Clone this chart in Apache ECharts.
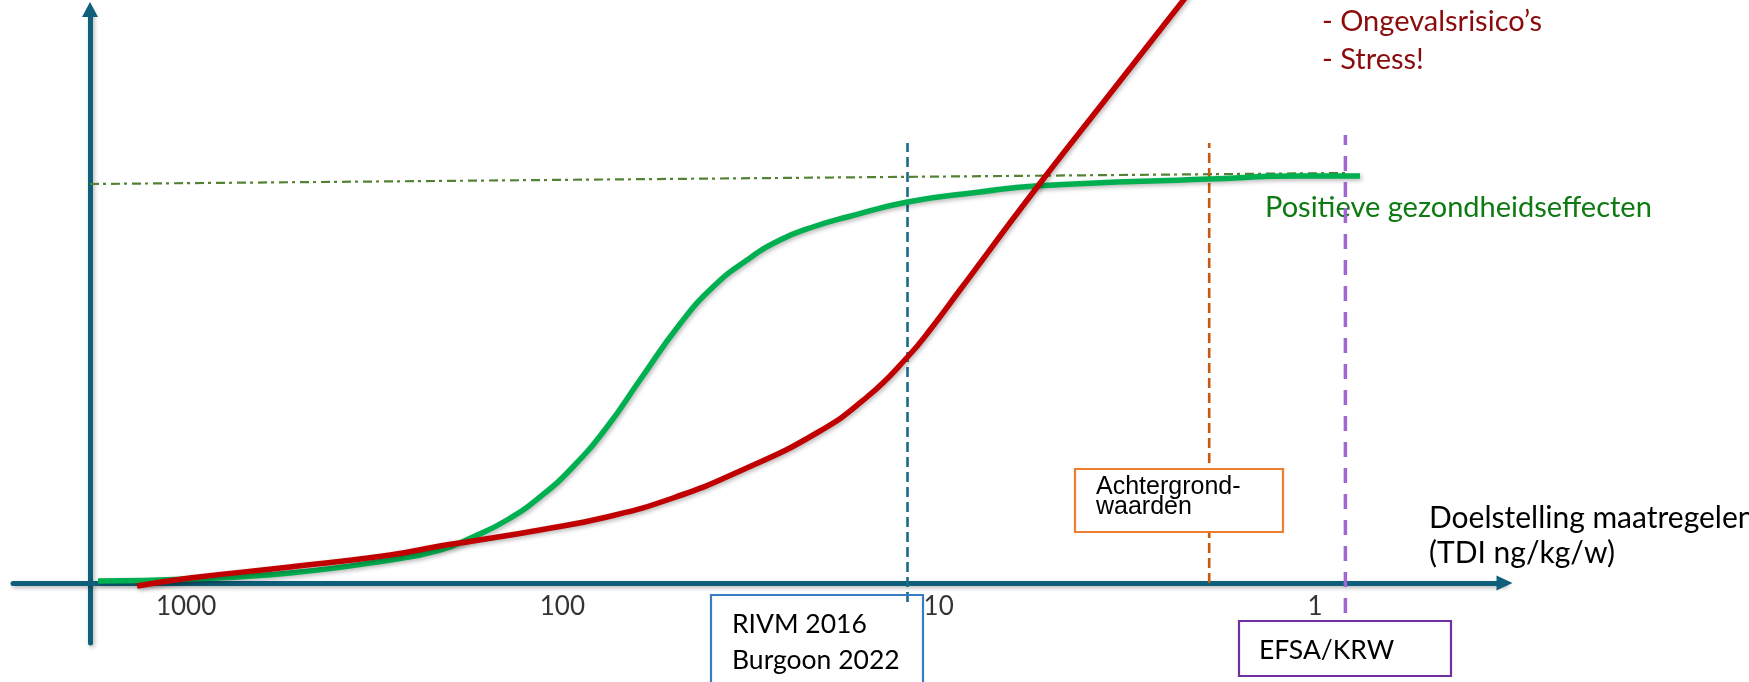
<!DOCTYPE html>
<html>
<head>
<meta charset="utf-8">
<script src="https://cdn.jsdelivr.net/npm/echarts@6/dist/echarts.min.js"></script>
<style>
  html, body { margin: 0; padding: 0; background: #ffffff; }
  #chart { width: 1749px; height: 682px; }
</style>
</head>
<body>
<div id="chart"></div>
<script>
// Dose on a reversed log axis (TDI ng/kg/w), effect on an arbitrary scale (0 = x axis).
const tickValues = [1000, 100, 10, 1];

// Positieve gezondheidseffecten (green S-curve)
const greenTdi    = [1714, 977, 530, 287, 211.5, 172.8, 140.3, 114.7, 93.8, 76.1, 62.2, 48.7, 39.8, 32.3, 26.4, 21.6, 17.5, 12.1, 7.77, 5.55, 1.91, 1.096, 0.759];
const greenEffect = [0.5, 1.0, 2.5, 5.75, 8.25, 11.5, 15.75, 21.5, 29, 39, 50.75, 64.75, 74, 80.75, 85.75, 89, 91.5, 95.25, 97.75, 99.25, 101, 101.75, 101.75];

// Negatieve effecten (red curve, runs off the top)
const redTdi    = [1350, 977, 530, 287, 211.5, 172.8, 114.7, 76.1, 50.8, 33.7, 21.1, 15.5, 12.1, 10.35, 8.78, 5.55, 3.61, 2.256, 1.68];
const redEffect = [-0.75, 1.25, 4, 7, 9.25, 10.5, 13.25, 16.5, 21.25, 28, 37.5, 46.5, 56.5, 64.25, 73.25, 98.25, 120.75, 145.25, 160.75];

// Plateau reference (dash-dot)
const plateauTdi    = [1800, 0.822];
const plateauEffect = [99.75, 102.5];

// Reference levels (vertical dashed markers): [TDI, bottom, top]
const rivmLevel   = [12.1, -4.75, 110];
const achterLevel = [1.91, 0, 110];
const efsaLevel   = [0.83, -7.5, 112];

const pair = (xs, ys) => xs.map((x, i) => [x, ys[i]]);
const vline = (lvl) => [[lvl[0], lvl[1]], [lvl[0], lvl[2]]];

const AXIS = '#0f5f7a';
const shadow = { shadowColor: 'rgba(0,0,0,0.28)', shadowBlur: 4, shadowOffsetX: 1.5, shadowOffsetY: 2 };
const BODY = 'Lato, "Open Sans", sans-serif';
const ARIAL = '"Liberation Sans", Arial, sans-serif';

const chart = echarts.init(document.getElementById('chart'), null, { renderer: 'canvas' });

function text(str, x, y, size, color, family, z) {
  return {
    type: 'text', z: z || 20,
    style: { text: str, x: x, y: y, fill: color, font: size + 'px ' + (family || BODY),
             textAlign: 'left', textVerticalAlign: 'middle', align: 'left', verticalAlign: 'middle' }
  };
}
function box(x, y, w, h, stroke, fill, z) {
  return { type: 'rect', z: z || 15, shape: { x: x, y: y, width: w, height: h },
           style: { fill: fill || 'none', stroke: stroke, lineWidth: 2.2 } };
}

chart.setOption({
  animation: false,
  backgroundColor: '#ffffff',
  grid: { left: 13, right: 244.5, top: 9.5, bottom: 39, containLabel: false },
  xAxis: {
    type: 'log',
    inverse: true,
    min: 0.3135,
    max: 2884,
    axisLine: {
      onZero: true,
      symbol: ['none', 'triangle'],
      symbolSize: [15, 16],
      lineStyle: Object.assign({ color: AXIS, width: 5 }, shadow)
    },
    axisTick: { show: false },
    splitLine: { show: false },
    axisLabel: { show: false }
  },
  yAxis: {
    type: 'value',
    min: -15,
    max: 143.375,
    offset: -77,
    axisLine: {
      show: true,
      onZero: false,
      symbol: ['none', 'triangle'],
      symbolSize: [16, 15],
      lineStyle: Object.assign({ color: AXIS, width: 5 }, shadow)
    },
    axisTick: { show: false },
    axisLabel: { show: false },
    splitLine: { show: false }
  },
  series: [
    {
      name: 'plateau', type: 'line', data: pair(plateauTdi, plateauEffect), showSymbol: false, z: 3,
      lineStyle: { color: '#548235', width: 2.2, type: [9, 4, 3, 5] }
    },
    {
      name: 'RIVM 2016', type: 'line', data: vline(rivmLevel), showSymbol: false, z: 4,
      lineStyle: { color: '#1a6a8a', width: 2.6, type: [10, 5] }
    },
    {
      name: 'Achtergrondwaarden', type: 'line', data: vline(achterLevel), showSymbol: false, z: 4,
      lineStyle: { color: '#c55a11', width: 2.6, type: [10, 5] }
    },
    {
      name: 'Positieve gezondheidseffecten', type: 'line', data: pair(greenTdi, greenEffect),
      showSymbol: false, smooth: 0.5, z: 5,
      lineStyle: Object.assign({ color: '#00b050', width: 5.5 }, shadow)
    },
    {
      name: 'Negatieve effecten', type: 'line', data: pair(redTdi, redEffect),
      showSymbol: false, smooth: 0.5, clip: false, z: 6,
      lineStyle: Object.assign({ color: '#c00000', width: 5.5 }, shadow)
    },
    {
      name: 'EFSA/KRW', type: 'line', data: vline(efsaLevel), showSymbol: false, z: 30, zlevel: 1,
      lineStyle: { color: '#a066d3', width: 3.5, type: [15, 11] }
    },
    {
      // tick labels placed on the dose scale, just under the axis line
      name: 'ticks', type: 'scatter', silent: true, z: 8,
      data: tickValues.map(v => [v, 0]),
      symbolSize: 1, itemStyle: { color: 'rgba(0,0,0,0)' },
      label: {
        show: true, position: 'bottom', distance: 10,
        fontFamily: BODY, fontSize: 26, color: '#000',
        formatter: (p) => String(p.value[0])
      }
    }
  ],
  graphic: [
    text('- Ongevalsrisico\u2019s', 1322, 22, 29, '#8b0a0a'),
    text('- Stress!', 1322, 60, 29, '#8b0a0a'),
    text('Positieve gezondheidseffecten', 1265, 208, 29, '#0e7a12'),
    text('Doelstelling maatregelen', 1429, 518, 30, '#000'),
    text('(TDI ng/kg/w)', 1429, 553, 30, '#000'),

    box(1075, 469, 208, 63, '#ed7d31', '#ffffff'),
    text('Achtergrond-', 1096, 487, 25, '#000', ARIAL),
    text('waarden', 1096, 507, 25, '#000', ARIAL),

    box(711, 595, 212, 100, '#3a7cc4', 'none'),
    text('RIVM 2016', 732, 624, 26.5, '#000'),
    text('Burgoon 2022', 732, 660, 26.5, '#000'),

    box(1239, 621, 212, 55, '#7030a0', '#ffffff'),
    text('EFSA/KRW', 1259, 650, 26.5, '#000')
  ]
});
</script>
</body>
</html>
